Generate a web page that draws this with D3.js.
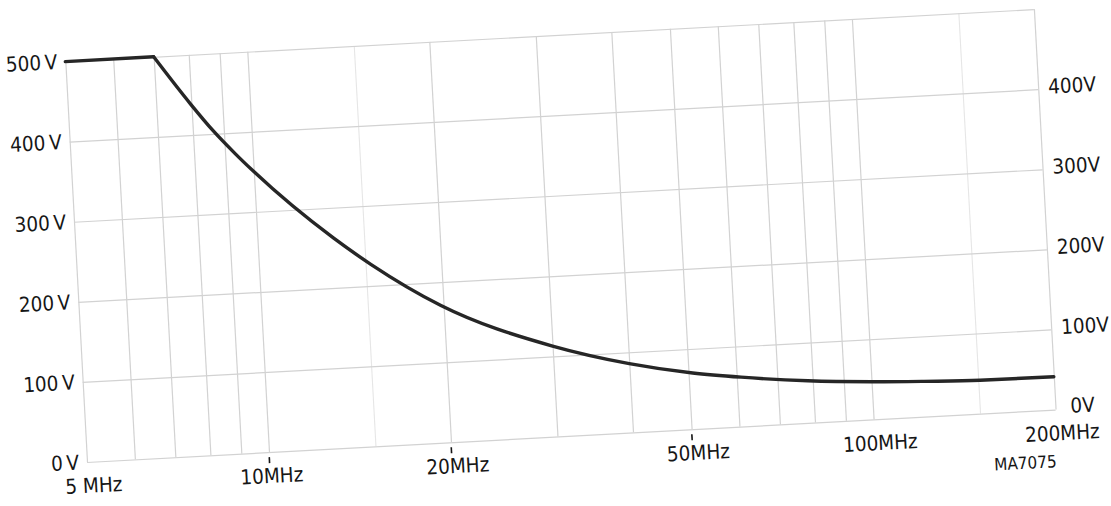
<!DOCTYPE html>
<html>
<head>
<meta charset="utf-8">
<script src="https://cdn.jsdelivr.net/npm/d3@7"></script>
<style>
  body { margin: 0; background: #fff; }
  svg { display: block; }
</style>
</head>
<body>
<svg id="chart" width="1111" height="506"></svg>
<script>
// curve (frequency in MHz, voltage in V)
const freqMHz = [5, 7, 7.97, 8.64, 9.35, 9.98, 13.36, 15.3, 19.8, 30, 40, 50.8, 61, 78.5, 100, 122, 151, 200];
const voltage = [500, 500, 439, 404, 374, 351, 262, 227, 171, 113, 86, 70, 61.5, 52.5, 47, 44, 41.5, 41];
const kneeIndex = 1; // flat part ends at 7 MHz

const gridFreqs = [5, 6, 7, 8, 9, 10, 20, 30, 40, 50, 60, 70, 80, 90, 100, 200];
const faintFreqs = [15, 150];
const gridVolts = [0, 100, 200, 300, 400, 500];
const leftTicks = [0, 100, 200, 300, 400, 500];
const rightTicks = [0, 100, 200, 300, 400];
const freqTicks = [5, 10, 20, 50, 100, 200];
const freqLabels = ["5 MHz", "10MHz", "20MHz", "50MHz", "100MHz", "200MHz"];
const markedFreqs = [10, 20, 50];

const width = 970;
const height = 401;
const fontFamily = "'DejaVu Sans Condensed', 'Liberation Sans Narrow', sans-serif";
const ink = "#161616";

const svg = d3.select("#chart");

// the scan is tilted a little, so the whole plot sits in a rotated group
const g = svg.append("g")
  .attr("transform", "translate(87,462) rotate(-3.1)");

const x = d3.scaleLog().domain([5, 200]).range([0, width]);
const y = d3.scaleLinear().domain([0, 500]).range([0, -height]);

// grid lines
g.append("g")
  .call(d3.axisBottom(x).tickValues(faintFreqs).tickSize(-height).tickFormat(""))
  .call(s => s.select(".domain").remove())
  .call(s => s.selectAll("line").attr("stroke", "#e6e6e6").attr("stroke-width", 1.1));

g.append("g")
  .call(d3.axisBottom(x).tickValues(gridFreqs).tickSize(-height).tickFormat(""))
  .call(s => s.select(".domain").remove())
  .call(s => s.selectAll("line").attr("stroke", "#d2d2d2").attr("stroke-width", 1.2));

g.append("g")
  .call(d3.axisLeft(y).tickValues(gridVolts).tickSize(-width).tickFormat(""))
  .call(s => s.select(".domain").remove())
  .call(s => s.selectAll("line").attr("stroke", "#d2d2d2").attr("stroke-width", 1.2));

// left voltage labels
g.append("g")
  .call(d3.axisLeft(y).tickValues(leftTicks).tickSize(0).tickPadding(8).tickFormat(d => d + "\u2009V"))
  .call(s => s.select(".domain").remove())
  .call(s => s.selectAll("text")
    .attr("font-family", fontFamily).attr("font-size", 20.5).attr("fill", ink));

// right voltage labels
g.append("g")
  .attr("transform", `translate(${width},0)`)
  .call(d3.axisRight(y).tickValues(rightTicks).tickSize(0).tickPadding(10).tickFormat(d => d + "V"))
  .call(s => s.select(".domain").remove())
  .call(s => s.selectAll("text")
    .attr("font-family", fontFamily).attr("font-size", 20.5).attr("fill", ink)
    .attr("x", d => d === 0 ? 15 : 10)
    .attr("y", d => d === 0 ? -3 : -2));

// frequency labels
g.append("g")
  .call(d3.axisBottom(x).tickValues(freqTicks).tickSize(0).tickFormat((d, i) => freqLabels[i]))
  .call(s => s.select(".domain").remove())
  .call(s => s.selectAll("text")
    .attr("font-family", fontFamily).attr("font-size", 20.5).attr("fill", ink)
    .attr("x", d => d === 10 ? 1 : 5)
    .attr("y", 23.5)
    .attr("dy", "0.36em"));

// little tick marks above the labels
g.append("g")
  .selectAll("line")
  .data(markedFreqs)
  .join("line")
  .attr("x1", d => x(d)).attr("x2", d => x(d))
  .attr("y1", 5).attr("y2", 11)
  .attr("stroke", ink).attr("stroke-width", 1.6);

// curve
const pts = freqMHz.map((f, i) => [f, voltage[i]]);
const flatLine = d3.line().x(d => x(d[0])).y(d => y(d[1]));
const decayLine = d3.line().x(d => x(d[0])).y(d => y(d[1])).curve(d3.curveMonotoneX);

g.append("path")
  .attr("d", flatLine(pts.slice(0, kneeIndex + 1)))
  .attr("fill", "none").attr("stroke", "#262626").attr("stroke-width", 3.4)
  .attr("stroke-linecap", "round");

g.append("path")
  .attr("d", decayLine(pts.slice(kneeIndex)))
  .attr("fill", "none").attr("stroke", "#262626").attr("stroke-width", 3.4)
  .attr("stroke-linecap", "round");

// drawing number
g.append("text")
  .attr("x", 937).attr("y", 51.5).attr("dy", "0.36em")
  .attr("text-anchor", "middle")
  .attr("font-family", fontFamily).attr("font-size", 17).attr("fill", ink)
  .text("MA7075");
</script>
</body>
</html>
